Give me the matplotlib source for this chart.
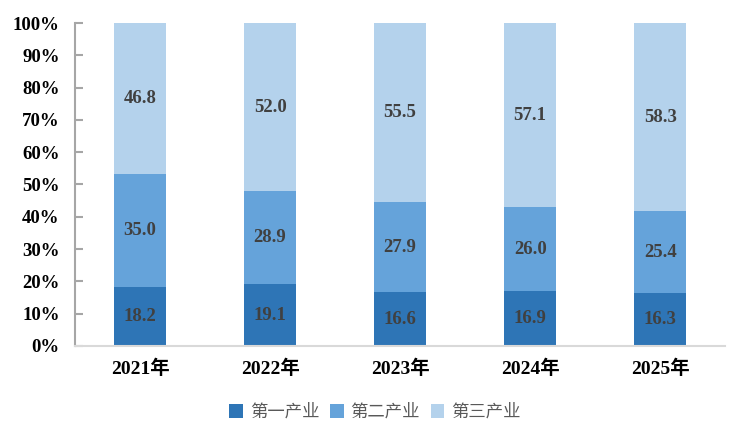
import numpy as np
import matplotlib
matplotlib.use('Agg')
import matplotlib.pyplot as plt
from matplotlib.ticker import PercentFormatter

years = ['2021年', '2022年', '2023年', '2024年', '2025年']
primary = [18.2, 19.1, 16.6, 16.9, 16.3]
secondary = [35.0, 28.9, 27.9, 26.0, 25.4]
tertiary = [46.8, 52.0, 55.5, 57.1, 58.3]
names = ['第一产业', '第二产业', '第三产业']
colors = ['#2E75B6', '#65A3DA', '#B4D2EC']

serif = ['Liberation Serif', 'Noto Sans CJK SC']
fig = plt.figure(figsize=(7.5, 4.44), dpi=100)
ax = fig.add_axes([0.1, 0.221, 0.867, 0.727])

x = np.arange(len(years))
bottom = np.zeros(len(years))
for vals, name, c in zip([primary, secondary, tertiary], names, colors):
    vals = np.array(vals)
    ax.bar(x, vals, 0.4, bottom=bottom, color=c, label=name)
    for xi, b, v in zip(x, bottom, vals):
        ax.text(xi, b + v / 2, f'{v:.1f}', ha='center', va='center',
                fontsize=13.5, fontweight='bold', color='#404040', family=serif)
    bottom += vals

ax.set_xlim(-0.5, len(years) - 0.5)
ax.set_ylim(0, 100)
ax.set_yticks(np.arange(0, 101, 10))
ax.yaxis.set_major_formatter(PercentFormatter(decimals=0))
ax.set_xticks(x)
ax.set_xticklabels(years)
for lab in ax.get_xticklabels() + ax.get_yticklabels():
    lab.set_family(serif)
    lab.set_fontweight('bold')
    lab.set_fontsize(14)
    lab.set_color('black')
for lab in ax.get_yticklabels():
    lab.set_fontsize(13.5)

for s in ['top', 'right']:
    ax.spines[s].set_visible(False)
ax.spines['left'].set_color('#A6A6A6')
ax.spines['left'].set_linewidth(1.5)
ax.spines['bottom'].set_color('#D9D9D9')
ax.spines['bottom'].set_linewidth(1.5)
ax.tick_params(axis='y', direction='in', length=6, width=1.5, color='#A6A6A6', pad=11)
ax.tick_params(axis='x', length=0, pad=10)

leg = fig.legend(loc='center', bbox_to_anchor=(0.5, 0.072), ncol=3, frameon=False,
                 handlelength=0.8, handleheight=0.8, handletextpad=0.4, columnspacing=0.6,
                 prop={'family': 'Noto Sans CJK SC', 'size': 12.5, 'weight': 'light'})
for t in leg.get_texts():
    t.set_color('#595959')

fig.savefig('out.png', dpi=100)
